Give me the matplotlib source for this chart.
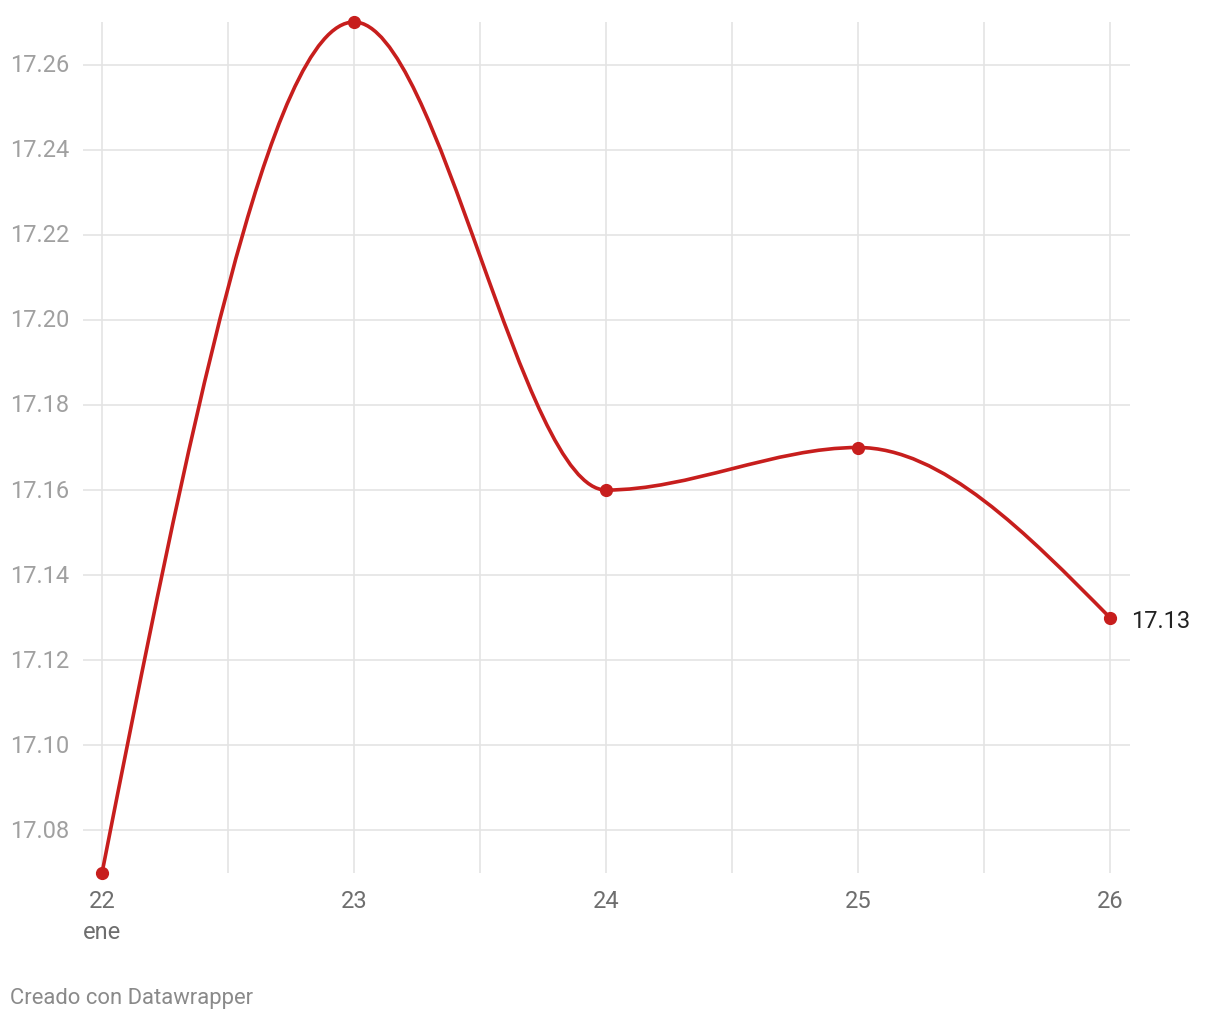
import numpy as np
import matplotlib.pyplot as plt
from matplotlib.path import Path
from matplotlib.patches import PathPatch
import matplotlib.transforms as mtransforms

plt.rcParams['font.family'] = ['Roboto', 'DejaVu Sans']

# data
days = [22, 23, 24, 25, 26]
values = [17.07, 17.27, 17.16, 17.17, 17.13]
y_ticks = [17.08, 17.10, 17.12, 17.14, 17.16, 17.18, 17.20, 17.22, 17.24, 17.26]
x_ticks = [22, 23, 24, 25, 26]
x_labels = ['22', '23', '24', '25', '26']
x_grid = [22, 22.5, 23, 23.5, 24, 24.5, 25, 25.5, 26]

LINE = '#c71e1d'


# d3 curveMonotoneX as cubic bezier segments
def monotone_path(x, y):
    x = np.asarray(x, float)
    y = np.asarray(y, float)
    n = len(x)
    h = np.diff(x)
    s = np.diff(y) / h
    t = np.zeros(n)
    for i in range(1, n - 1):
        p = (s[i - 1] * h[i] + s[i] * h[i - 1]) / (h[i - 1] + h[i])
        t[i] = (np.sign(s[i - 1]) + np.sign(s[i])) * min(abs(s[i - 1]), abs(s[i]), 0.5 * abs(p))
    t[0] = (3 * s[0] - t[1]) / 2
    t[-1] = (3 * s[-1] - t[-2]) / 2
    verts = [(x[0], y[0])]
    codes = [Path.MOVETO]
    for i in range(n - 1):
        dx = h[i] / 3
        verts += [(x[i] + dx, y[i] + dx * t[i]),
                  (x[i + 1] - dx, y[i + 1] - dx * t[i + 1]),
                  (x[i + 1], y[i + 1])]
        codes += [Path.CURVE4] * 3
    return Path(verts, codes)


fig = plt.figure(figsize=(12.2, 10.2), dpi=100)
W, H = 1220, 1020
left, right, top, bottom = 83, 1130, 23, 874
ax = fig.add_axes([left / W, 1 - bottom / H, (right - left) / W, (bottom - top) / H])

ax.set_xlim(22 - 19 / 252, 26 + 20 / 252)
ax.set_ylim(17.07, 17.27)

for s in ax.spines.values():
    s.set_visible(False)
ax.set_xticks([])
ax.set_yticks([])

for yv in y_ticks:
    ax.axhline(yv, color='#e4e4e4', lw=1.2, zorder=1)
for xv in x_grid:
    ax.axvline(xv, color='#e4e4e4', lw=1.2, zorder=1)

patch = PathPatch(monotone_path(days, values), facecolor='none', edgecolor=LINE,
                  lw=2.6, zorder=3, clip_on=False, capstyle='round', joinstyle='round')
ax.add_patch(patch)
ax.plot(days, values, 'o', color=LINE, ms=8.5, zorder=4, clip_on=False)

# y labels, left aligned at figure edge
ytrans = mtransforms.blended_transform_factory(fig.transFigure, ax.transData)
for yv in y_ticks:
    ax.text(10 / W, yv, f'{yv:.2f}', transform=ytrans, ha='left', va='center',
            fontsize=17, color='#a0a0a0')

# x labels
xtrans = mtransforms.blended_transform_factory(ax.transData, fig.transFigure)
for xv, lab in zip(x_ticks, x_labels):
    ax.text(xv, 1 - 902 / H, lab, transform=xtrans, ha='center', va='center',
            fontsize=17, color='#6e6e6e')
ax.text(x_ticks[0], 1 - 933 / H, 'ene', transform=xtrans, ha='center', va='center',
        fontsize=17, color='#6e6e6e')

# end label
ax.annotate(f'{values[-1]:.2f}', (days[-1], values[-1]), xytext=(15, -2),
            textcoords='offset points', ha='left', va='center', fontsize=17,
            color='#222222', annotation_clip=False)

fig.text(10 / W, 1 - 999 / H, 'Creado con Datawrapper', ha='left', va='center',
         fontsize=15.8, color='#8a8a8a')

fig.savefig('out.png', dpi=100, facecolor='white')
